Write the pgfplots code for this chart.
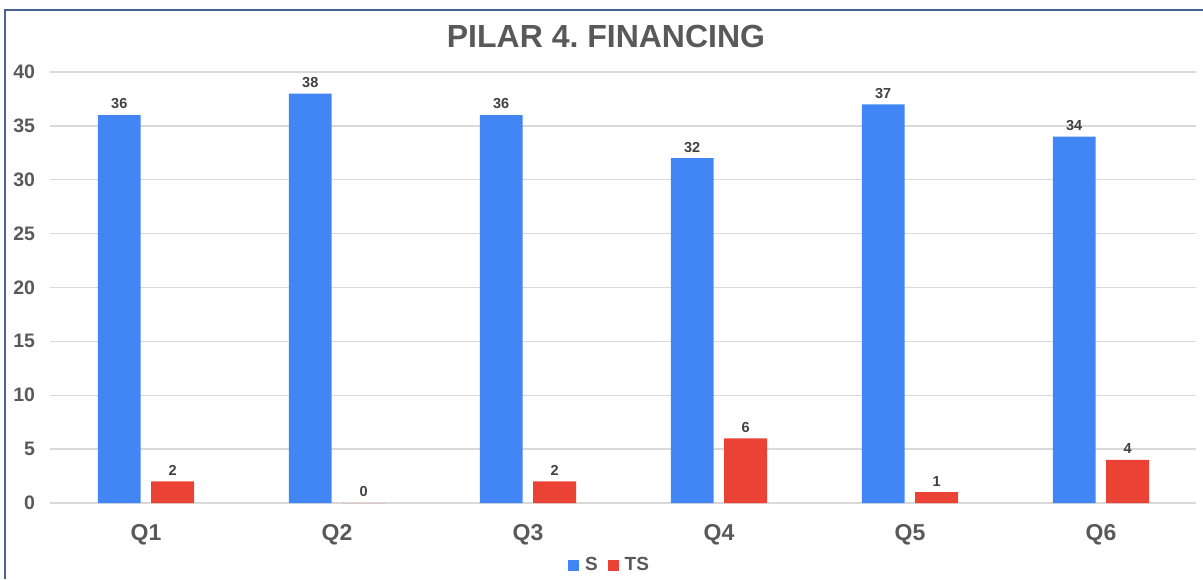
\documentclass[border=0pt]{standalone}
\usepackage{pgfplots}
\pgfplotsset{compat=1.18}
\usepackage{fontspec}
\setmainfont{Liberation Sans}
\definecolor{sblue}{HTML}{4285F4}
\definecolor{tsred}{HTML}{EA4335}
\definecolor{txt}{HTML}{595959}
\definecolor{lbl}{HTML}{404040}
\definecolor{gridc}{HTML}{D9D9D9}
\definecolor{framec}{HTML}{4A6491}
\begin{document}
\frenchspacing
\begin{tikzpicture}
\path[use as bounding box] (0pt,0pt) rectangle (1203pt,579pt);
\draw[framec, line width=1.2pt] (5pt,0pt) -- (5pt,569pt) -- (1203pt,569pt);
\node[font=\fontsize{32}{32}\selectfont\bfseries, text=txt] at (606pt,542.5pt) {PILAR 4. FINANCING};
\begin{axis}[at={(50.5pt,76pt)}, anchor=south west, scale only axis,
  width=1146pt, height=431pt,
  xmin=-0.5, xmax=5.5, ymin=0, ymax=40,
  ytick={0,5,...,40}, xtick={0,...,5}, xticklabels={Q1,Q2,Q3,Q4,Q5,Q6},
  axis line style={draw=none}, ymajorgrids, grid style={gridc, line width=1.3pt},
  major tick length=0pt,
  /pgf/number format/assume math mode=true,
  yticklabel style={font=\fontsize{19.5}{19.5}\selectfont\bfseries, text=txt, anchor=east, xshift=-12pt},
  xticklabel style={font=\fontsize{23}{23}\selectfont\bfseries, text=txt, anchor=center, yshift=-32pt},
  ybar, bar width=0.225,
  nodes near coords,
  every node near coord/.append style={font=\fontsize{14.5}{14.5}\selectfont\bfseries, text=lbl, yshift=2.5pt},
  clip=false,
  legend style={at={(0.5,0)}, anchor=center, yshift=-62pt, xshift=-14pt, draw=none, fill=none,
    font=\fontsize{19}{19}\selectfont\bfseries, text=txt, legend columns=-1,
    /tikz/every even column/.append style={column sep=8pt}},
  legend image code/.code={\fill[#1] (0pt,-6pt) rectangle (11pt,5pt); \path (0pt,0pt) -- (15pt,0pt);},
]
\addplot[fill=sblue, draw=none, bar shift=-0.14] coordinates {(0,36) (1,38) (2,36) (3,32) (4,37) (5,34)};
\addplot[fill=tsred, draw=none, bar shift=0.14] coordinates {(0,2) (1,0) (2,2) (3,6) (4,1) (5,4)};
\legend{S,TS}
\end{axis}
\end{tikzpicture}
\end{document}
